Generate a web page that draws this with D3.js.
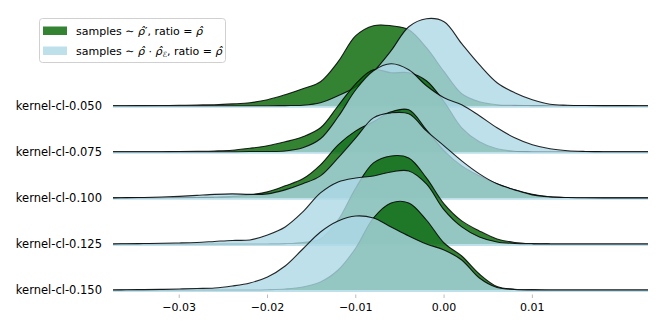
<!DOCTYPE html>
<html lang="en">
<head>
  <meta charset="UTF-8">
  <title>Kernel ridgeline</title>
  <script src="https://d3js.org/d3.v7.min.js"></script>
  <style>
    body { margin: 0; background: #fff; }
    svg { display: block; font-family: 'DejaVu Sans', sans-serif; }
  </style>
</head>
<body>
  <svg width="664" height="332"></svg>
  <script>
    // evaluation grid of the density estimates
    const xs = [-0.0375, -0.036, -0.034, -0.032, -0.030, -0.028, -0.026, -0.024, -0.022, -0.020,
                -0.018, -0.016, -0.014, -0.012, -0.010, -0.008, -0.006, -0.004, -0.002, 0.000,
                0.002, 0.004, 0.006, 0.008, 0.010, 0.012, 0.014, 0.016, 0.018, 0.020, 0.022, 0.0231];

    const rowNames = ["kernel-cl-0.050", "kernel-cl-0.075", "kernel-cl-0.100", "kernel-cl-0.125", "kernel-cl-0.150"];

    // samples ~ rho', ratio = rho
    const green050 = [0,0,0.1,0.2,0.4,0.7,1,1.8,3,6,11,17,24,44,70,80,80,76,58,34,12,4,1,0.3,0.1,0,0,0,0,0,0,0];
    const green075 = [0,0,0,0.1,0.3,0.5,0.8,1.5,3.5,6,10,15,24,46,68,82,79,79,71,50,24,10,3,0.5,0.1,0,0,0,0,0,0,0];
    const green100 = [0,0,0,0,0.2,0.4,0.8,1.5,3,6,12,19,33,53,67,76,86,88,68,47,32,22,14,8,3.5,1,0.3,0,0,0,0,0];
    const green125 = [0,0,0,0,0,0,0,0,0,0,0.3,1.5,5,24,56,81,88,86,66,40,23,13,5,1.5,0.3,0,0,0,0,0,0,0];
    const green150 = [0,0,0,0,0,0,0,0,0,0.3,1,3,8,20,42,72,87,87,70,47,34,16,3.5,0.8,0.2,0,0,0,0,0,0,0];

    // samples ~ rho * rho_E, ratio = rho
    const blue050 = [0,0,0,0,0,0,0,0,0,0,0.1,0.5,3,10,19,34,55,79,87,84,62,41,23,13,6,1.5,0.5,0.2,0.1,0.05,0,0];
    const blue075 = [0,0,0,0,0,0,0,0,0.2,0.3,0.8,4,13,35,62,81,88,82,66,54,47,36,24,14,7,3,1,0.3,0.1,0,0,0];
    const blue100 = [0,0.2,0.4,0.8,1.5,2.5,3.5,4,3.5,4,8,14,22,40,60,80,85,84,67,52,37,24,14,8,3,1,0.3,0.1,0,0,0,0];
    const blue125 = [0,0.2,0.4,0.7,1,1.5,2.5,3.5,4,9,17,32,51,62,66,68,72,73,60,34,17,7,2,0.5,0.1,0,0,0,0,0,0,0];
    const blue150 = [0,0.2,0.4,0.6,1,1.5,2,4,7,13,24,41,58,69,74,72,63,54,46,40,30,12,2.5,0.5,0.1,0,0,0,0,0,0,0];

    const greenRows = [green050, green075, green100, green125, green150];
    const blueRows = [blue050, blue075, blue100, blue125, blue150];

    const xTicks = [-0.03, -0.02, -0.01, 0.00, 0.01];
    const xTickLabels = ["\u22120.03", "\u22120.02", "\u22120.01", "0.00", "0.01"];

    const greenColor = "#006400", blueColor = "#add8e6";

    const svg = d3.select("svg");

    const x = d3.scaleLinear().domain(d3.extent(xs)).range([113, 648]);
    const rowY = d3.scalePoint().domain(rowNames).range([105.7, 290]);
    const dens = d3.scaleLinear().domain([0, 100]).range([0, 100]);

    function areaFor(base) {
      return d3.area()
        .x((d, i) => x(xs[i]))
        .y0(base)
        .y1(d => base - dens(d))
        .curve(d3.curveCatmullRom.alpha(0.5));
    }
    function lineFor(base) {
      return d3.line()
        .x((d, i) => x(xs[i]))
        .y(d => base - dens(d))
        .curve(d3.curveCatmullRom.alpha(0.5));
    }

    const plot = svg.append("g");

    rowNames.forEach((name, r) => {
      const base = rowY(name);
      const g = plot.append("g");

      g.append("path")
        .attr("d", areaFor(base)(greenRows[r]))
        .attr("fill", greenColor)
        .attr("fill-opacity", 0.8);
      g.append("path")
        .attr("d", lineFor(base)(greenRows[r]))
        .attr("fill", "none")
        .attr("stroke", "#000")
        .attr("stroke-opacity", 0.85)
        .attr("stroke-width", 1.1);

      g.append("path")
        .attr("d", areaFor(base)(blueRows[r]))
        .attr("fill", blueColor)
        .attr("fill-opacity", 0.8);
      // light edge along the bottom of the fill
      g.append("line")
        .attr("x1", x.range()[0]).attr("x2", x.range()[1])
        .attr("y1", base + 1).attr("y2", base + 1)
        .attr("stroke", blueColor)
        .attr("stroke-opacity", 0.8)
        .attr("stroke-width", 2);
      g.append("path")
        .attr("d", lineFor(base)(blueRows[r]))
        .attr("fill", "none")
        .attr("stroke", "#000")
        .attr("stroke-opacity", 0.85)
        .attr("stroke-width", 1.1);

      svg.append("text")
        .attr("x", 102)
        .attr("y", base)
        .attr("dy", "0.35em")
        .attr("text-anchor", "end")
        .attr("font-size", 11.5)
        .attr("fill", "#000")
        .text(name);
    });

    // x axis: ticks + labels only
    const axis = svg.append("g");
    axis.selectAll("line")
      .data(xTicks)
      .enter().append("line")
      .attr("x1", d => x(d)).attr("x2", d => x(d))
      .attr("y1", 294.5).attr("y2", 298)
      .attr("stroke", "#aaa")
      .attr("stroke-width", 0.8);
    axis.selectAll("text")
      .data(xTicks)
      .enter().append("text")
      .attr("x", d => x(d))
      .attr("y", 310.5)
      .attr("text-anchor", "middle")
      .attr("font-size", 11)
      .attr("fill", "#000")
      .text((d, i) => xTickLabels[i]);

    // legend
    const legend = svg.append("g");
    legend.append("rect")
      .attr("x", 39.5).attr("y", 18.5)
      .attr("width", 186).attr("height", 44)
      .attr("rx", 3)
      .attr("fill", "#fff").attr("fill-opacity", 0.8)
      .attr("stroke", "#d0d0d0");

    legend.append("rect")
      .attr("x", 43).attr("y", 26.5).attr("width", 24).attr("height", 8.5)
      .attr("fill", greenColor).attr("fill-opacity", 0.8);
    legend.append("rect")
      .attr("x", 43).attr("y", 46.5).attr("width", 24).attr("height", 8.5)
      .attr("fill", blueColor).attr("fill-opacity", 0.8);

    const rhoHat = "\u03C1\u0302";

    const t1 = legend.append("text").attr("x", 76).attr("y", 35).attr("font-size", 11);
    t1.append("tspan").text("samples \u223C ");
    t1.append("tspan").attr("font-style", "italic").text(rhoHat);
    t1.append("tspan").text("\u2032, ratio = ");
    t1.append("tspan").attr("font-style", "italic").text(rhoHat);

    const t2 = legend.append("text").attr("x", 76).attr("y", 55).attr("font-size", 11);
    t2.append("tspan").text("samples \u223C ");
    t2.append("tspan").attr("font-style", "italic").text(rhoHat);
    t2.append("tspan").text(" \u00B7 ");
    t2.append("tspan").attr("font-style", "italic").text(rhoHat);
    t2.append("tspan").attr("font-size", 7.5).attr("dy", 2).attr("font-style", "italic").text("\u2130");
    t2.append("tspan").attr("dy", -2).text(", ratio = ");
    t2.append("tspan").attr("font-style", "italic").text(rhoHat);
  </script>
</body>
</html>
